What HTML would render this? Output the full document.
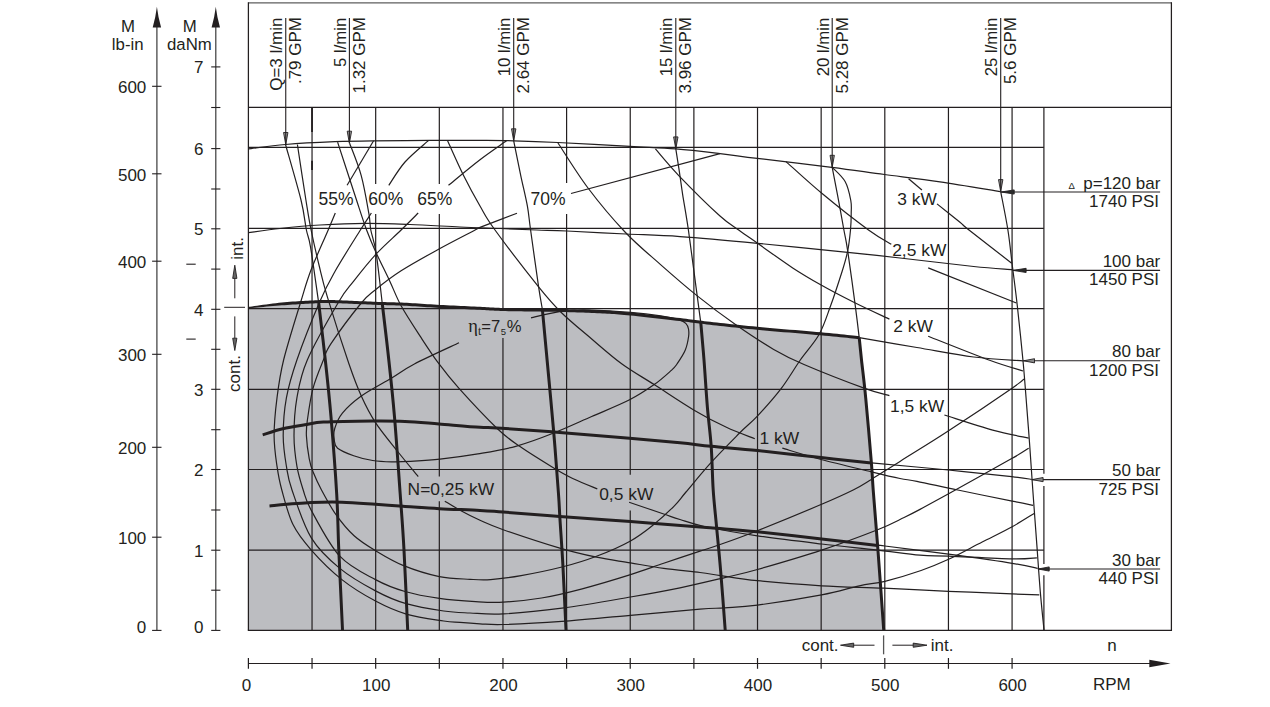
<!DOCTYPE html>
<html><head><meta charset="utf-8"><title>chart</title>
<style>
html,body{margin:0;padding:0;background:#fff;}
body{width:1270px;height:707px;overflow:hidden;}
svg{display:block;}
text{font-family:"Liberation Sans",sans-serif;fill:#231f20;}
</style></head><body>
<svg width="1270" height="707" viewBox="0 0 1270 707">
<rect x="0" y="0" width="1270" height="707" fill="#fff"/>
<path d="M248.4,630.3 L248.4,307.6 C254.0,307.0 271.2,304.8 281.8,303.9 C292.4,303.0 304.6,302.4 312.0,302.0 C319.4,301.6 320.4,301.4 325.9,301.4 C331.4,301.4 336.5,301.7 344.8,302.0 C353.1,302.3 365.7,302.9 375.6,303.3 C385.5,303.7 393.3,303.7 404.0,304.2 C414.7,304.7 427.3,305.7 440.0,306.4 C452.7,307.1 469.5,307.8 480.0,308.3 C490.5,308.8 493.0,309.2 503.0,309.5 C513.0,309.8 529.4,309.9 540.0,310.1 C550.6,310.3 556.6,310.3 566.6,310.6 C576.6,310.9 589.4,311.2 600.0,311.8 C610.6,312.4 617.2,312.7 630.5,314.0 C643.8,315.3 666.8,318.1 680.0,319.6 C693.2,321.2 697.1,321.9 710.0,323.3 C722.9,324.8 738.7,326.6 757.2,328.3 C775.7,330.1 803.8,332.2 820.8,333.8 C837.8,335.4 852.8,337.0 859.2,337.6 C859.6,341.3 860.4,349.9 861.5,360.0 C862.6,370.1 864.1,380.8 865.7,397.9 C867.4,415.0 870.1,447.5 871.4,462.9 C872.6,478.2 872.2,476.2 873.2,490.0 C874.2,503.8 875.9,522.1 877.6,545.4 C879.4,568.7 882.7,615.9 883.7,630.0 Z" fill="#bcbdc1" stroke="none"/>
<line x1="312.04" y1="107.40" x2="312.04" y2="630.30" stroke="#231f20" stroke-width="1.2" />
<line x1="375.68" y1="107.40" x2="375.68" y2="184.00" stroke="#231f20" stroke-width="1.2" />
<line x1="375.68" y1="214.00" x2="375.68" y2="630.30" stroke="#231f20" stroke-width="1.2" />
<line x1="439.32" y1="107.40" x2="439.32" y2="184.00" stroke="#231f20" stroke-width="1.2" />
<line x1="439.32" y1="214.00" x2="439.32" y2="476.60" stroke="#231f20" stroke-width="1.2" />
<line x1="439.32" y1="501.20" x2="439.32" y2="630.30" stroke="#231f20" stroke-width="1.2" />
<line x1="502.96" y1="107.40" x2="502.96" y2="310.60" stroke="#231f20" stroke-width="1.2" />
<line x1="502.96" y1="338.00" x2="502.96" y2="630.30" stroke="#231f20" stroke-width="1.2" />
<line x1="566.60" y1="107.40" x2="566.60" y2="183.00" stroke="#231f20" stroke-width="1.2" />
<line x1="566.60" y1="214.00" x2="566.60" y2="630.30" stroke="#231f20" stroke-width="1.2" />
<line x1="630.24" y1="107.40" x2="630.24" y2="474.70" stroke="#231f20" stroke-width="1.2" />
<line x1="630.24" y1="510.40" x2="630.24" y2="630.30" stroke="#231f20" stroke-width="1.2" />
<line x1="693.88" y1="107.40" x2="693.88" y2="630.30" stroke="#231f20" stroke-width="1.2" />
<line x1="757.52" y1="107.40" x2="757.52" y2="630.30" stroke="#231f20" stroke-width="1.2" />
<line x1="821.16" y1="107.40" x2="821.16" y2="630.30" stroke="#231f20" stroke-width="1.2" />
<line x1="884.80" y1="107.40" x2="884.80" y2="630.30" stroke="#231f20" stroke-width="1.2" />
<line x1="948.44" y1="107.40" x2="948.44" y2="630.30" stroke="#231f20" stroke-width="1.2" />
<line x1="1012.08" y1="107.40" x2="1012.08" y2="630.30" stroke="#231f20" stroke-width="1.2" />
<line x1="1043.90" y1="107.40" x2="1043.90" y2="473.80" stroke="#231f20" stroke-width="1.2" />
<line x1="1043.90" y1="486.00" x2="1043.90" y2="564.00" stroke="#231f20" stroke-width="1.2" />
<line x1="1043.90" y1="575.30" x2="1043.90" y2="630.30" stroke="#231f20" stroke-width="1.2" />
<line x1="248.40" y1="550.20" x2="1043.90" y2="550.20" stroke="#231f20" stroke-width="1.2" />
<line x1="248.40" y1="469.50" x2="1043.90" y2="469.50" stroke="#231f20" stroke-width="1.2" />
<line x1="248.40" y1="389.40" x2="1043.90" y2="389.40" stroke="#231f20" stroke-width="1.2" />
<line x1="248.40" y1="308.70" x2="1043.90" y2="308.70" stroke="#231f20" stroke-width="1.2" />
<line x1="248.40" y1="228.30" x2="1043.90" y2="228.30" stroke="#231f20" stroke-width="1.2" />
<line x1="248.40" y1="147.40" x2="1043.90" y2="147.40" stroke="#231f20" stroke-width="1.2" />
<line x1="312.04" y1="107.40" x2="312.04" y2="132.00" stroke="#231f20" stroke-width="1.8" />
<line x1="312.04" y1="160.70" x2="312.04" y2="170.00" stroke="#231f20" stroke-width="1.8" />
<line x1="248.40" y1="2.80" x2="1171.70" y2="2.80" stroke="#5e5e5e" stroke-width="1.3" />
<line x1="248.40" y1="2.30" x2="248.40" y2="630.30" stroke="#231f20" stroke-width="1.25" />
<line x1="1171.40" y1="2.30" x2="1171.40" y2="630.90" stroke="#231f20" stroke-width="1.25" />
<line x1="247.80" y1="630.30" x2="1172.00" y2="630.30" stroke="#231f20" stroke-width="1.3" />
<line x1="248.40" y1="107.40" x2="1171.70" y2="107.40" stroke="#231f20" stroke-width="1.2" />
<path d="M248.3,148.9 C254.5,148.2 271.1,145.7 285.5,144.5 C299.9,143.3 320.3,142.3 334.8,141.7 C349.3,141.1 356.9,141.0 372.7,140.8 C388.5,140.6 411.7,140.5 429.6,140.4 C447.5,140.3 466.0,140.3 480.0,140.4 C494.0,140.5 500.8,140.5 513.7,140.8 C526.7,141.2 538.3,141.6 557.7,142.5 C577.1,143.4 610.3,145.3 630.0,146.4 C649.7,147.5 660.8,147.7 675.8,148.9 C690.8,150.1 706.4,152.0 720.0,153.6 C733.6,155.2 738.7,156.1 757.3,158.4 C775.9,160.7 810.6,164.6 831.8,167.3 C853.0,170.0 866.5,172.1 884.5,174.5 C902.5,176.9 920.6,179.1 940.0,181.9 C959.4,184.8 990.6,190.0 1000.7,191.6" fill="none" stroke="#231f20" stroke-width="1.2" />
<path d="M248.3,232.7 C253.6,232.0 268.1,229.8 280.0,228.5 C291.9,227.2 305.8,225.8 320.0,225.0 C334.2,224.2 350.0,223.5 365.0,223.4 C380.0,223.3 394.2,223.9 410.0,224.5 C425.8,225.1 445.0,226.3 460.0,227.0 C475.0,227.7 487.2,228.0 500.0,228.5 C512.8,229.0 525.5,229.6 536.7,230.0 C547.9,230.4 552.1,230.3 567.0,231.0 C581.9,231.7 607.2,233.1 626.0,234.0 C644.8,234.9 658.1,235.0 680.0,236.6 C701.9,238.2 729.6,240.7 757.6,243.3 C785.6,245.9 824.0,250.0 847.7,252.4 C871.4,254.8 879.0,255.7 900.0,258.0 C921.0,260.4 954.9,264.5 973.7,266.5 C992.5,268.5 1006.1,269.2 1012.6,269.8" fill="none" stroke="#231f20" stroke-width="1.2" />
<path d="M859.2,337.6 C868.8,339.2 897.8,344.3 916.9,347.5 C936.0,350.7 956.0,354.8 973.7,357.0 C991.4,359.2 1014.8,360.2 1023.0,360.8" fill="none" stroke="#231f20" stroke-width="1.2" />
<path d="M871.4,462.9 C884.2,464.1 924.8,467.7 948.2,470.0 C971.6,472.3 997.8,475.0 1011.7,476.6 C1025.6,478.2 1028.3,478.9 1031.6,479.4" fill="none" stroke="#231f20" stroke-width="1.2" />
<path d="M877.6,545.4 C878.8,545.5 873.1,544.5 884.9,546.0 C896.7,547.5 927.4,551.3 948.6,554.2 C969.8,557.1 997.4,560.9 1012.2,563.3 C1027.0,565.7 1033.5,567.5 1037.7,568.4" fill="none" stroke="#231f20" stroke-width="1.2" />
<path d="M285.5,144.5 C288.1,153.8 297.5,185.8 301.0,200.0 C304.5,214.2 304.8,222.2 306.4,230.0 C308.0,237.8 308.4,234.6 310.5,246.8 C312.6,259.0 317.3,293.6 318.7,303.0" fill="none" stroke="#231f20" stroke-width="1.2" />
<path d="M349.6,143.2 C351.6,148.6 358.1,164.1 361.3,175.8 C364.5,187.6 367.3,204.7 368.9,213.7 C370.5,222.7 369.6,223.5 370.8,230.0 C372.0,236.5 374.2,240.5 376.1,252.7 C378.0,264.9 381.2,294.6 382.2,303.0" fill="none" stroke="#231f20" stroke-width="1.2" />
<path d="M513.7,140.8 C514.9,146.6 518.5,164.9 520.8,175.8 C523.1,186.7 525.8,197.2 527.4,206.2 C529.0,215.2 528.7,216.6 530.6,230.0 C532.5,243.4 536.6,273.6 538.6,286.9 C540.6,300.2 541.8,305.8 542.4,309.6" fill="none" stroke="#231f20" stroke-width="1.2" />
<path d="M675.8,148.9 C676.5,153.4 678.9,168.3 680.0,176.0 C681.1,183.7 681.3,185.8 682.7,194.8 C684.1,203.8 686.2,214.7 688.4,230.0 C690.6,245.3 693.9,271.4 696.0,286.9 C698.1,302.4 700.0,316.9 700.8,322.9" fill="none" stroke="#231f20" stroke-width="1.2" />
<path d="M832.2,167.3 C833.1,171.9 835.5,184.4 837.5,194.8 C839.5,205.2 842.2,220.7 843.9,230.0 C845.6,239.3 845.8,238.3 847.7,250.9 C849.6,263.5 853.4,291.4 855.3,305.8 C857.2,320.2 858.6,332.3 859.2,337.6" fill="none" stroke="#231f20" stroke-width="1.2" />
<path d="M1000.7,191.6 C1001.9,198.0 1005.9,217.3 1007.9,230.0 C1009.9,242.7 1011.0,255.3 1012.6,267.9 C1014.2,280.5 1015.6,290.3 1017.3,305.8 C1019.0,321.3 1021.4,343.9 1023.0,360.8 C1024.6,377.7 1025.7,393.3 1026.8,407.4 C1027.9,421.5 1028.7,431.5 1029.7,445.3 C1030.7,459.1 1031.5,472.4 1032.8,490.0 C1034.1,507.6 1036.0,534.1 1037.3,551.1 C1038.5,568.1 1039.2,578.8 1040.3,591.9 C1041.4,605.0 1043.4,623.6 1044.0,630.0" fill="none" stroke="#231f20" stroke-width="1.2" />
<path d="M297.4,144.5 C298.8,153.8 303.6,185.8 305.9,200.0 C308.2,214.2 308.9,219.2 311.1,230.0 C313.3,240.8 316.3,253.9 319.0,265.0 C321.7,276.1 322.2,279.9 327.2,296.4 C332.2,312.9 343.3,347.4 349.0,364.0 C354.7,380.6 356.9,386.2 361.3,396.0 C365.7,405.8 369.5,413.4 375.5,422.6 C381.5,431.8 390.2,442.0 397.3,451.0 C404.4,460.0 414.7,472.3 418.2,476.6" fill="none" stroke="#231f20" stroke-width="1.2" />
<path d="M444.8,501.2 C447.3,502.7 454.1,507.0 460.0,510.2 C465.9,513.4 472.8,517.0 480.0,520.3 C487.2,523.5 489.9,525.1 503.2,529.7 C516.5,534.3 544.2,543.5 559.8,548.1 C575.3,552.7 584.7,554.7 596.5,557.2 C608.3,559.7 619.3,561.0 630.5,562.9 C641.7,564.8 652.1,566.8 663.7,568.4 C675.3,570.0 690.5,571.3 700.0,572.5 C709.5,573.7 711.1,574.2 720.7,575.6 C730.3,577.0 740.6,579.0 757.4,580.7 C774.2,582.4 800.5,584.5 821.6,585.8 C842.7,587.0 862.5,587.3 883.7,588.2 C904.9,589.1 927.2,590.3 948.6,591.3 C970.0,592.2 997.1,593.3 1012.2,593.9 C1027.3,594.5 1034.8,594.7 1039.3,594.9" fill="none" stroke="#231f20" stroke-width="1.2" />
<path d="M337.6,142.1 C340.8,151.8 351.7,185.3 356.5,200.0 C361.3,214.7 363.3,221.2 366.6,230.0 C369.9,238.8 372.2,244.2 376.1,252.7 C380.0,261.2 385.6,272.3 389.8,281.2 C394.0,290.1 396.1,296.6 401.1,305.8 C406.2,315.0 413.9,326.7 420.1,336.2 C426.3,345.7 431.6,354.0 438.1,362.7 C444.6,371.4 449.2,377.5 459.0,388.4 C468.8,399.3 486.8,418.5 496.9,428.2 C507.0,437.9 510.1,439.7 519.6,446.3 C529.1,452.9 544.9,462.6 553.7,468.0 C562.6,473.4 565.4,475.0 572.7,478.5 C580.0,482.0 593.2,487.2 597.3,488.9" fill="none" stroke="#231f20" stroke-width="1.2" />
<path d="M629.1,502.2 C634.9,504.2 655.2,511.1 663.7,514.0 C672.2,516.9 673.2,517.4 680.0,519.5 C686.8,521.6 691.5,523.8 704.4,526.5 C717.3,529.2 737.9,532.9 757.4,535.8 C776.9,538.7 801.6,541.6 821.6,544.0 C841.6,546.4 861.2,548.2 877.6,550.1 C894.0,552.0 908.2,554.2 920.0,555.2 C931.8,556.2 933.2,555.6 948.6,556.2 C964.0,556.8 997.5,558.6 1012.2,558.9 C1026.9,559.2 1032.8,558.0 1036.9,557.8" fill="none" stroke="#231f20" stroke-width="1.2" />
<path d="M447.6,140.8 C450.3,146.6 458.3,164.9 463.7,175.8 C469.1,186.7 474.8,197.0 480.0,206.0 C485.2,215.0 485.2,216.5 495.0,230.0 C504.8,243.5 527.6,273.1 538.6,286.9 C549.6,300.6 552.4,303.8 561.3,312.5 C570.1,321.2 581.6,330.4 591.7,339.0 C601.8,347.6 611.6,356.4 622.0,364.0 C632.4,371.6 642.2,376.9 654.2,384.6 C666.2,392.3 682.1,403.1 694.1,410.2 C706.1,417.3 716.3,422.6 726.4,427.3 C736.5,432.1 750.1,436.8 754.8,438.7" fill="none" stroke="#231f20" stroke-width="1.2" />
<path d="M782.3,448.2 C788.8,450.1 806.2,455.6 821.1,459.5 C836.0,463.4 858.2,468.6 871.4,471.8 C884.5,475.0 892.4,476.9 900.0,478.5 C907.6,480.1 907.3,479.4 916.9,481.3 C926.5,483.2 941.9,486.7 957.8,490.0 C973.7,493.3 999.6,498.6 1012.2,501.2 C1024.8,503.8 1029.7,504.6 1033.2,505.3" fill="none" stroke="#231f20" stroke-width="1.2" />
<path d="M557.7,142.5 C562.8,150.1 576.8,173.1 588.0,188.0 C599.2,202.9 613.0,219.3 625.0,232.0 C637.0,244.7 647.9,253.4 660.0,264.1 C672.1,274.8 685.3,286.3 697.9,296.4 C710.5,306.5 723.2,316.0 735.8,324.8 C748.4,333.6 762.3,342.8 773.7,349.4 C785.1,356.0 788.8,358.0 804.0,364.5 C819.2,371.0 850.5,383.2 864.7,388.4 C878.9,393.6 885.3,394.4 889.4,395.6" fill="none" stroke="#231f20" stroke-width="1.2" />
<path d="M944.4,415.0 C952.5,417.5 978.7,426.2 992.7,430.1 C1006.8,434.0 1022.7,436.8 1028.7,438.1" fill="none" stroke="#231f20" stroke-width="1.2" />
<path d="M655.4,148.9 C659.3,153.4 668.2,164.6 679.0,175.8 C689.8,187.0 710.0,207.0 720.0,216.0 C730.0,225.0 732.4,225.4 738.7,230.0 C745.0,234.6 748.6,237.0 757.6,243.3 C766.6,249.6 782.1,260.9 792.7,267.9 C803.3,274.8 810.7,279.1 821.1,285.0 C831.5,290.9 843.9,297.3 855.3,303.0 C866.7,308.7 883.7,316.4 889.4,319.1" fill="none" stroke="#231f20" stroke-width="1.2" />
<path d="M928.2,336.2 C938.3,340.2 973.1,354.2 988.9,360.0 C1004.7,365.8 1017.3,369.2 1023.0,371.0" fill="none" stroke="#231f20" stroke-width="1.2" />
<path d="M786.0,161.6 C792.1,167.0 808.6,182.4 822.4,193.8 C836.1,205.2 857.0,221.6 868.5,230.0 C880.0,238.4 887.5,241.8 891.3,244.2" fill="none" stroke="#231f20" stroke-width="1.2" />
<path d="M928.2,267.9 L1016.4,303.0" fill="none" stroke="#231f20" stroke-width="1.2" />
<path d="M908.6,178.7 L921.9,190.0" fill="none" stroke="#231f20" stroke-width="1.2" />
<path d="M937.0,203.9 C940.8,207.0 954.7,218.0 960.0,222.3 C965.3,226.7 960.4,223.2 969.0,230.0 C977.6,236.8 1004.6,257.7 1011.7,263.2" fill="none" stroke="#231f20" stroke-width="1.2" />
<path d="M373.6,140.8 L347.1,185.3" fill="none" stroke="#231f20" stroke-width="1.2" />
<path d="M335.3,213.0 C334.1,215.8 332.2,220.5 328.2,230.0 C324.2,239.5 315.7,257.8 311.1,269.8 C306.5,281.8 305.3,287.0 300.7,302.0 C296.1,317.0 287.6,344.0 283.6,360.0 C279.7,376.0 278.6,385.3 277.0,397.9 C275.4,410.5 274.1,424.4 274.1,435.8 C274.1,447.2 275.7,457.2 277.0,466.2 C278.3,475.2 279.1,480.3 281.8,490.0 C284.5,499.7 288.1,514.6 293.0,524.6 C297.9,534.6 303.2,540.9 311.3,550.1 C319.4,559.3 331.2,571.1 341.9,579.6 C352.6,588.1 364.6,595.2 375.5,601.0 C386.4,606.8 395.7,611.0 407.1,614.3 C418.5,617.6 434.9,619.6 443.7,621.0 C452.5,622.4 453.9,621.9 460.0,622.4 C466.1,622.9 472.8,623.4 480.0,623.8 C487.2,624.1 489.6,624.9 503.2,624.5 C516.9,624.1 540.7,622.9 561.9,621.4 C583.1,619.9 607.5,617.3 630.5,615.3 C653.5,613.3 684.3,610.5 700.0,609.2 C715.7,608.0 715.2,608.5 724.8,607.8 C734.4,607.1 741.3,607.2 757.4,605.1 C773.5,603.0 804.6,598.1 821.6,594.9 C838.6,591.7 848.8,588.1 859.3,585.8 C869.8,583.5 874.6,583.8 884.9,581.3 C895.2,578.8 910.5,574.2 921.1,570.5 C931.7,566.8 938.4,564.0 948.6,559.3 C958.8,554.5 971.6,547.4 982.2,542.0 C992.8,536.6 1003.5,531.5 1012.2,526.7 C1020.9,521.9 1030.5,515.6 1034.2,513.4" fill="none" stroke="#231f20" stroke-width="1.2" />
<path d="M428.6,140.4 C424.7,144.0 411.6,154.5 405.0,162.0 C398.4,169.5 391.5,181.4 388.8,185.3" fill="none" stroke="#231f20" stroke-width="1.2" />
<path d="M371.4,213.0 C369.6,215.8 366.5,220.2 360.4,230.0 C354.3,239.8 341.6,259.7 334.8,271.7 C328.0,283.7 325.9,287.3 319.6,302.0 C313.3,316.7 302.4,344.0 296.9,360.0 C291.4,376.0 288.7,385.3 286.4,397.9 C284.1,410.5 283.2,424.4 283.2,435.8 C283.2,447.2 284.9,457.2 286.4,466.2 C287.9,475.2 287.9,478.1 292.0,490.0 C296.1,501.9 303.3,524.8 311.3,537.9 C319.3,551.0 329.1,559.6 339.8,568.4 C350.5,577.2 364.4,585.0 375.5,590.9 C386.6,596.8 394.7,600.4 406.1,603.7 C417.5,607.1 433.1,609.5 443.7,611.0 C454.3,612.5 460.1,612.5 470.0,613.0 C479.9,613.5 487.9,614.7 503.2,613.9 C518.5,613.1 540.7,611.0 561.9,608.2 C583.1,605.4 610.8,600.4 630.5,597.0 C650.2,593.6 664.3,591.0 680.0,587.8 C695.7,584.6 711.9,580.6 724.8,577.6 C737.7,574.6 741.3,574.1 757.4,569.5 C773.5,564.9 801.6,556.7 821.6,550.1 C841.6,543.5 863.9,535.1 877.6,529.7 C891.4,524.3 897.0,520.9 904.1,517.5 C911.2,514.1 912.6,513.4 920.0,509.4 C927.4,505.4 933.3,502.2 948.6,493.7 C963.9,485.2 998.4,466.2 1011.7,458.6 C1025.0,451.0 1025.9,449.9 1028.7,448.2" fill="none" stroke="#231f20" stroke-width="1.2" />
<path d="M506.5,140.8 C502.1,144.0 489.7,152.3 480.0,159.7 C470.3,167.1 453.8,181.0 448.5,185.3" fill="none" stroke="#231f20" stroke-width="1.2" />
<path d="M418.2,213.0 C415.4,215.8 408.1,223.2 401.1,230.0 C394.2,236.8 384.4,245.2 376.5,253.7 C368.6,262.2 360.0,273.1 353.7,281.2 C347.4,289.2 346.3,288.9 338.6,302.0 C330.9,315.1 314.2,344.0 307.3,360.0 C300.4,376.0 299.1,385.3 296.9,397.9 C294.7,410.5 294.0,424.4 294.0,435.8 C294.0,447.2 295.4,457.2 296.9,466.2 C298.4,475.2 300.8,482.6 303.2,490.0 C305.6,497.4 305.2,499.4 311.3,510.4 C317.4,521.4 329.1,544.7 339.8,556.2 C350.5,567.7 364.6,573.7 375.5,579.6 C386.4,585.5 394.4,588.4 405.0,591.5 C415.6,594.6 427.6,596.7 439.4,598.4 C451.2,600.1 465.0,601.0 475.6,601.6 C486.2,602.2 492.2,602.7 503.2,602.1 C514.2,601.5 528.3,600.2 541.5,598.0 C554.7,595.8 567.4,592.7 582.2,588.8 C597.0,584.9 616.9,578.9 630.5,574.6 C644.1,570.4 652.1,567.2 663.7,563.3 C675.3,559.4 690.8,554.1 700.0,551.1 C709.2,548.1 709.1,548.4 718.7,545.0 C728.3,541.6 740.2,537.5 757.4,530.7 C774.5,523.9 805.6,511.1 821.6,504.3 C837.6,497.5 844.9,494.1 853.2,490.0 C861.5,485.9 863.6,484.2 871.4,479.4 C879.2,474.6 887.2,469.4 900.0,461.4 C912.8,453.3 929.6,443.3 948.2,431.1 C966.8,418.9 999.1,397.1 1011.7,388.4 C1024.3,379.7 1022.0,380.6 1024.0,379.0" fill="none" stroke="#231f20" stroke-width="1.2" />
<path d="M720.0,153.6 L571.0,193.5" fill="none" stroke="#231f20" stroke-width="1.2" />
<path d="M517.0,213.2 C510.8,215.6 487.0,224.6 480.0,227.4 C473.0,230.2 481.9,226.4 475.1,230.0 C468.3,233.6 451.3,242.2 439.0,249.0 C426.7,255.8 411.7,264.0 401.1,270.8 C390.5,277.6 382.1,284.3 375.5,289.7 C368.9,295.1 368.7,294.0 361.3,303.0 C353.9,312.0 337.3,334.2 331.0,343.7 C324.7,353.2 326.4,352.6 323.4,360.0 C320.4,367.4 315.7,378.3 313.0,388.4 C310.3,398.5 308.4,412.8 307.3,420.7 C306.2,428.6 306.1,429.5 306.4,435.8 C306.7,442.1 308.1,452.6 309.2,458.6 C310.3,464.6 310.9,466.6 313.0,471.8 C315.1,477.0 317.7,482.9 321.5,490.0 C325.3,497.1 330.4,506.8 335.8,514.4 C341.2,522.0 347.5,529.8 354.1,535.8 C360.7,541.8 367.4,545.8 375.5,550.7 C383.6,555.6 392.4,561.1 403.0,565.4 C413.6,569.7 428.1,574.3 439.3,576.6 C450.5,578.9 461.4,578.8 470.0,579.3 C478.6,579.8 482.1,580.2 490.6,579.6 C499.1,579.0 509.2,577.7 521.1,575.6 C533.0,573.5 549.3,570.2 561.9,567.0 C574.5,563.8 585.1,560.6 596.5,556.2 C607.9,551.9 621.0,546.2 630.5,540.9 C640.0,535.6 646.4,530.4 653.6,524.6 C660.8,518.8 668.5,511.7 673.9,506.3 C679.3,500.9 679.8,499.3 686.0,492.0 C692.2,484.7 702.3,472.2 711.2,462.4 C720.1,452.6 731.9,440.8 739.6,433.0 C747.3,425.2 750.7,423.3 757.6,415.9 C764.5,408.5 774.2,397.7 781.3,388.4 C788.4,379.1 794.0,369.0 800.3,360.0 C806.6,351.0 814.2,343.3 819.2,334.3 C824.2,325.3 826.8,316.2 830.6,305.8 C834.4,295.4 839.1,280.8 842.0,271.7 C844.9,262.6 846.3,257.9 847.7,250.9 C849.1,244.0 849.9,236.2 850.5,230.0 C851.1,223.8 851.2,218.6 851.2,213.7 C851.2,208.8 851.8,205.9 850.8,200.5 C849.8,195.1 848.2,187.0 845.1,181.5 C842.0,176.0 834.4,169.7 832.2,167.3" fill="none" stroke="#231f20" stroke-width="1.2" />
<path d="M531.0,317.8 C535.7,316.8 550.4,312.9 559.4,311.6 C568.4,310.3 573.1,309.7 585.0,309.8 C596.9,309.9 617.9,311.4 630.5,312.4 C643.1,313.4 652.6,314.6 660.8,315.8 C669.0,317.1 675.4,318.6 679.6,319.9 C683.8,321.2 684.5,322.1 686.0,323.6 C687.5,325.1 688.1,326.9 688.5,329.0 C688.9,331.1 689.1,333.0 688.6,336.5 C688.1,340.0 687.2,345.4 685.3,350.0 C683.4,354.6 679.3,360.6 677.0,364.0 C674.7,367.4 675.1,367.0 671.3,370.4 C667.5,373.8 661.2,379.7 654.2,384.6 C647.2,389.5 640.0,394.5 629.6,399.8 C619.2,405.1 604.4,411.0 591.7,416.5 C579.1,422.0 566.4,428.0 553.7,433.0 C541.1,438.0 528.4,442.8 515.8,446.3 C503.2,449.8 490.5,451.7 477.9,453.8 C465.3,455.9 451.2,457.8 440.0,459.1 C428.8,460.4 418.7,460.9 410.6,461.4 C402.6,461.8 398.0,461.9 391.7,461.8 C385.4,461.7 379.0,461.5 372.7,460.5 C366.4,459.5 359.5,457.8 353.7,455.7 C347.9,453.6 340.9,450.9 337.6,448.2 C334.4,445.5 334.7,442.9 334.2,439.6 C333.7,436.3 333.4,432.6 334.8,428.2 C336.2,423.8 338.0,418.5 342.4,413.1 C346.8,407.7 353.1,401.9 361.3,396.0 C369.5,390.1 382.9,383.3 391.7,378.0 C400.5,372.7 403.2,369.9 414.4,364.0 C425.6,358.1 451.6,346.3 459.0,342.8" fill="none" stroke="#231f20" stroke-width="1.2" />
<path d="M262.7,434.9 C266.0,433.9 275.4,430.5 282.7,428.8 C290.0,427.1 299.9,425.7 306.7,424.6 C313.5,423.5 312.4,422.7 323.4,422.1 C334.4,421.5 359.1,421.1 372.7,421.0 C386.3,420.9 393.9,420.9 405.0,421.4 C416.1,421.9 426.5,423.0 439.0,424.0 C451.5,425.0 470.4,426.7 480.0,427.3 C489.6,427.9 484.6,427.1 496.9,427.9 C509.2,428.7 531.6,430.3 553.7,432.0 C575.8,433.7 608.6,436.5 629.6,438.3 C650.6,440.1 666.4,441.5 680.0,442.8 C693.6,444.1 698.3,445.0 711.2,446.3 C724.1,447.6 739.3,448.7 757.6,450.6 C775.9,452.5 802.1,455.6 821.1,457.6 C840.1,459.7 863.0,462.0 871.4,462.9" fill="none" stroke="#231f20" stroke-width="3.0" stroke-linecap="butt"/>
<path d="M269.5,505.9 C276.5,505.3 299.2,503.2 311.3,502.6 C323.4,502.0 331.2,501.9 341.9,502.2 C352.6,502.5 365.3,503.6 375.5,504.3 C385.7,505.0 392.4,505.6 403.0,506.3 C413.6,507.0 426.5,508.0 439.3,508.7 C452.1,509.4 469.4,509.8 480.0,510.4 C490.6,510.9 489.9,511.0 503.2,512.0 C516.5,513.0 538.6,514.9 559.8,516.5 C581.0,518.1 607.1,519.8 630.5,521.6 C653.9,523.4 685.6,526.0 700.0,527.1 C714.4,528.2 707.1,527.5 716.7,528.3 C726.3,529.1 739.9,530.0 757.4,531.8 C774.9,533.6 801.6,536.6 821.6,538.9 C841.6,541.2 868.3,544.3 877.6,545.4" fill="none" stroke="#231f20" stroke-width="3.0" stroke-linecap="butt"/>
<path d="M318.7,303.0 C319.8,312.5 323.2,341.0 325.3,360.0 C327.4,379.0 329.1,394.6 331.0,416.9 C332.9,439.2 335.4,471.8 336.7,494.0 C338.0,516.2 337.8,527.4 338.8,550.1 C339.8,572.8 341.9,616.7 342.5,630.0" fill="none" stroke="#231f20" stroke-width="3.0" stroke-linecap="butt"/>
<path d="M382.2,303.0 C383.3,312.5 386.8,341.0 388.8,360.0 C390.9,379.0 392.6,394.6 394.5,416.9 C396.4,439.2 398.6,471.8 400.2,494.0 C401.8,516.2 402.8,527.4 404.0,550.1 C405.2,572.8 407.1,616.7 407.7,630.0" fill="none" stroke="#231f20" stroke-width="3.0" stroke-linecap="butt"/>
<path d="M542.4,309.6 C543.2,318.0 545.2,339.6 547.1,360.0 C549.0,380.4 551.8,409.7 553.7,432.0 C555.6,454.3 557.5,479.9 558.5,494.0 C559.5,508.1 559.1,504.6 559.8,516.5 C560.5,528.4 561.9,546.5 562.9,565.4 C563.9,584.3 565.5,619.2 566.0,630.0" fill="none" stroke="#231f20" stroke-width="3.0" stroke-linecap="butt"/>
<path d="M700.8,322.9 C701.3,329.1 702.9,345.9 704.0,360.0 C705.1,374.1 706.2,393.0 707.4,407.4 C708.6,421.8 710.2,432.5 711.2,446.3 C712.2,460.1 712.3,476.3 713.2,490.0 C714.1,503.7 715.5,514.7 716.7,528.3 C718.0,541.9 719.3,554.5 720.7,571.5 C722.1,588.5 724.5,620.2 725.2,630.0" fill="none" stroke="#231f20" stroke-width="3.0" stroke-linecap="butt"/>
<path d="M859.2,337.6 C859.6,341.3 860.4,349.9 861.5,360.0 C862.6,370.1 864.1,380.8 865.7,397.9 C867.4,415.0 870.1,447.5 871.4,462.9 C872.6,478.2 872.2,476.2 873.2,490.0 C874.2,503.8 875.9,522.1 877.6,545.4 C879.4,568.7 882.7,615.9 883.7,630.0" fill="none" stroke="#231f20" stroke-width="3.0" stroke-linecap="butt"/>
<path d="M248.48,308.35 L250.11,308.16 L252.16,307.97 L254.58,307.74 L257.28,307.48 L260.22,307.20 L263.33,306.90 L266.54,306.61 L269.80,306.31 L273.03,306.03 L276.17,305.77 L279.16,305.54 L281.93,305.35 L284.60,305.17 L287.32,304.96 L290.06,304.76 L292.80,304.58 L295.53,304.41 L298.21,304.25 L300.82,304.11 L303.34,303.97 L305.75,303.84 L308.03,303.72 L310.15,303.60 L312.08,303.50 L313.80,303.40 L315.29,303.31 L316.60,303.23 L317.75,303.16 L318.78,303.09 L319.73,303.04 L320.64,303.00 L321.55,302.96 L322.49,302.93 L323.50,302.92 L324.63,302.90 L325.90,302.90 L327.25,302.91 L328.60,302.92 L329.96,302.95 L331.35,302.98 L332.77,303.03 L334.24,303.08 L335.77,303.14 L337.37,303.20 L339.06,303.27 L340.84,303.34 L342.73,303.42 L344.74,303.50 L346.90,303.58 L349.21,303.68 L351.65,303.78 L354.21,303.89 L356.85,304.01 L359.54,304.13 L362.27,304.25 L365.01,304.37 L367.73,304.49 L370.41,304.60 L373.02,304.70 L375.55,304.80 L377.98,304.88 L380.34,304.96 L382.65,305.02 L384.92,305.08 L387.18,305.14 L389.44,305.19 L391.71,305.25 L394.01,305.32 L396.37,305.39 L398.80,305.48 L401.31,305.58 L403.93,305.70 L406.64,305.84 L409.43,305.99 L412.28,306.16 L415.19,306.35 L418.16,306.54 L421.18,306.73 L424.23,306.94 L427.33,307.14 L430.45,307.34 L433.59,307.53 L436.75,307.72 L439.92,307.90 L443.17,308.07 L446.56,308.24 L450.04,308.41 L453.60,308.58 L457.17,308.75 L460.74,308.91 L464.27,309.07 L467.71,309.23 L471.03,309.38 L474.20,309.53 L477.18,309.67 L479.93,309.80 L482.39,309.92 L484.57,310.05 L486.53,310.16 L488.31,310.27 L489.99,310.38 L491.60,310.48 L493.20,310.58 L494.85,310.67 L496.59,310.76 L498.49,310.84 L500.59,310.92 L502.96,311.00 L505.59,311.07 L508.45,311.14 L511.48,311.19 L514.66,311.25 L517.93,311.30 L521.25,311.34 L524.59,311.39 L527.90,311.43 L531.13,311.47 L534.25,311.51 L537.21,311.56 L539.98,311.60 L542.53,311.64 L544.93,311.68 L547.20,311.72 L549.36,311.75 L551.45,311.78 L553.50,311.81 L555.53,311.85 L557.59,311.88 L559.68,311.93 L561.86,311.98 L564.14,312.03 L566.56,312.10 L569.11,312.17 L571.76,312.25 L574.50,312.33 L577.29,312.41 L580.13,312.50 L583.01,312.59 L585.89,312.69 L588.77,312.80 L591.63,312.91 L594.46,313.03 L597.22,313.16 L599.92,313.30 L602.50,313.44 L604.95,313.57 L607.30,313.70 L609.59,313.83 L611.86,313.97 L614.14,314.12 L616.48,314.29 L618.92,314.47 L621.48,314.68 L624.22,314.92 L627.16,315.19 L630.35,315.49 L633.87,315.85 L637.72,316.25 L641.83,316.70 L646.15,317.18 L650.60,317.68 L655.11,318.20 L659.62,318.72 L664.07,319.24 L668.38,319.74 L672.48,320.23 L676.32,320.68 L679.82,321.09 L682.95,321.46 L685.75,321.80 L688.28,322.12 L690.62,322.41 L692.82,322.70 L694.95,322.98 L697.08,323.25 L699.26,323.53 L701.56,323.82 L704.05,324.12 L706.79,324.44 L709.83,324.79 L713.11,325.16 L716.51,325.54 L720.04,325.94 L723.69,326.34 L727.45,326.76 L731.34,327.18 L735.34,327.61 L739.46,328.04 L743.69,328.48 L748.04,328.92 L752.49,329.35 L757.06,329.79 L761.87,330.24 L767.01,330.70 L772.41,331.17 L777.99,331.65 L783.69,332.14 L789.42,332.62 L795.13,333.10 L800.73,333.57 L806.16,334.03 L811.34,334.47 L816.20,334.89 L820.66,335.29 L824.86,335.68 L828.96,336.07 L832.93,336.45 L836.74,336.83 L840.38,337.19 L843.82,337.54 L847.05,337.86 L850.02,338.17 L852.74,338.45 L855.16,338.70 L857.27,338.91 L859.05,339.09 L859.35,336.11 L857.58,335.93 L855.47,335.71 L853.04,335.46 L850.33,335.19 L847.35,334.88 L844.13,334.55 L840.68,334.20 L837.04,333.84 L833.22,333.47 L829.25,333.08 L825.14,332.69 L820.94,332.31 L816.46,331.91 L811.60,331.48 L806.41,331.04 L800.99,330.58 L795.38,330.11 L789.68,329.63 L783.94,329.15 L778.25,328.66 L772.67,328.19 L767.28,327.71 L762.14,327.25 L757.34,326.81 L752.78,326.37 L748.33,325.93 L744.00,325.49 L739.77,325.06 L735.66,324.62 L731.66,324.20 L727.78,323.77 L724.02,323.36 L720.37,322.96 L716.85,322.56 L713.45,322.18 L710.17,321.81 L707.13,321.46 L704.41,321.14 L701.93,320.84 L699.64,320.55 L697.46,320.27 L695.34,320.00 L693.20,319.72 L691.00,319.44 L688.66,319.14 L686.11,318.82 L683.31,318.48 L680.18,318.11 L676.67,317.70 L672.83,317.25 L668.73,316.76 L664.42,316.26 L659.97,315.74 L655.45,315.22 L650.94,314.70 L646.48,314.19 L642.16,313.71 L638.04,313.27 L634.18,312.86 L630.65,312.51 L627.44,312.20 L624.48,311.93 L621.73,311.69 L619.15,311.48 L616.70,311.30 L614.35,311.13 L612.05,310.98 L609.77,310.84 L607.47,310.70 L605.11,310.57 L602.66,310.44 L600.08,310.30 L597.37,310.16 L594.59,310.04 L591.76,309.91 L588.89,309.80 L586.00,309.69 L583.11,309.59 L580.23,309.50 L577.38,309.41 L574.58,309.33 L571.85,309.25 L569.20,309.17 L566.64,309.10 L564.22,309.03 L561.93,308.98 L559.75,308.93 L557.64,308.89 L555.59,308.85 L553.55,308.81 L551.50,308.78 L549.41,308.75 L547.24,308.72 L544.98,308.68 L542.58,308.64 L540.02,308.60 L537.26,308.56 L534.29,308.51 L531.17,308.47 L527.94,308.43 L524.63,308.39 L521.30,308.34 L517.97,308.30 L514.71,308.25 L511.54,308.19 L508.51,308.14 L505.66,308.07 L503.04,308.00 L500.70,307.92 L498.62,307.84 L496.74,307.76 L495.01,307.67 L493.37,307.58 L491.78,307.48 L490.17,307.38 L488.50,307.28 L486.71,307.17 L484.74,307.05 L482.55,306.93 L480.07,306.80 L477.32,306.67 L474.34,306.53 L471.17,306.38 L467.85,306.23 L464.40,306.07 L460.88,305.91 L457.31,305.75 L453.74,305.58 L450.19,305.41 L446.71,305.24 L443.32,305.07 L440.08,304.90 L436.92,304.73 L433.77,304.54 L430.64,304.34 L427.52,304.14 L424.43,303.94 L421.37,303.74 L418.36,303.54 L415.38,303.35 L412.46,303.17 L409.60,303.00 L406.80,302.84 L404.07,302.70 L401.44,302.58 L398.91,302.48 L396.47,302.39 L394.10,302.32 L391.79,302.25 L389.51,302.19 L387.26,302.14 L385.00,302.08 L382.73,302.02 L380.43,301.96 L378.08,301.89 L375.65,301.80 L373.14,301.70 L370.53,301.60 L367.85,301.49 L365.14,301.37 L362.40,301.25 L359.67,301.13 L356.98,301.01 L354.34,300.90 L351.78,300.79 L349.34,300.68 L347.02,300.59 L344.86,300.50 L342.85,300.42 L340.96,300.35 L339.18,300.27 L337.49,300.20 L335.89,300.14 L334.35,300.08 L332.87,300.03 L331.43,299.99 L330.03,299.95 L328.65,299.92 L327.27,299.91 L325.90,299.90 L324.61,299.90 L323.46,299.92 L322.42,299.94 L321.45,299.96 L320.51,300.00 L319.58,300.05 L318.61,300.10 L317.56,300.16 L316.41,300.23 L315.11,300.31 L313.62,300.40 L311.92,300.50 L309.98,300.61 L307.87,300.72 L305.59,300.84 L303.18,300.97 L300.65,301.11 L298.03,301.26 L295.34,301.42 L292.61,301.59 L289.85,301.77 L287.10,301.97 L284.36,302.18 L281.67,302.45 L278.89,302.77 L275.90,303.14 L272.76,303.54 L269.54,303.96 L266.29,304.40 L263.09,304.83 L260.00,305.26 L257.07,305.67 L254.38,306.05 L251.98,306.39 L249.94,306.67 L248.32,306.85 Z" fill="#231f20" stroke="none"/>
<path d="M285.75,144.50 L283.55,132.50 L287.95,132.50 Z" fill="#9a9a9a" stroke="#231f20" stroke-width="0.9"/>
<line x1="285.75" y1="18.00" x2="285.75" y2="144.50" stroke="#231f20" stroke-width="1.1" />
<text transform="translate(281.55,17.60) rotate(-90)" text-anchor="end" font-size="17" >Q=3 l/min</text>
<text transform="translate(301.35,17.00) rotate(-90)" text-anchor="end" font-size="17" >.79 GPM</text>
<path d="M349.40,143.20 L347.20,131.20 L351.60,131.20 Z" fill="#9a9a9a" stroke="#231f20" stroke-width="0.9"/>
<line x1="349.40" y1="18.00" x2="349.40" y2="143.20" stroke="#231f20" stroke-width="1.1" />
<text transform="translate(346.00,17.60) rotate(-90)" text-anchor="end" font-size="16.8" >5 l/min</text>
<text transform="translate(365.00,17.00) rotate(-90)" text-anchor="end" font-size="17" >1.32 GPM</text>
<path d="M513.70,140.80 L511.50,128.80 L515.90,128.80 Z" fill="#9a9a9a" stroke="#231f20" stroke-width="0.9"/>
<line x1="513.70" y1="18.00" x2="513.70" y2="140.80" stroke="#231f20" stroke-width="1.1" />
<text transform="translate(509.50,17.60) rotate(-90)" text-anchor="end" font-size="16.8" >10 l/min</text>
<text transform="translate(529.30,17.00) rotate(-90)" text-anchor="end" font-size="17" >2.64 GPM</text>
<path d="M675.80,148.90 L673.60,136.90 L678.00,136.90 Z" fill="#9a9a9a" stroke="#231f20" stroke-width="0.9"/>
<line x1="675.80" y1="18.00" x2="675.80" y2="148.90" stroke="#231f20" stroke-width="1.1" />
<text transform="translate(671.60,17.60) rotate(-90)" text-anchor="end" font-size="16.8" >15 l/min</text>
<text transform="translate(691.40,17.00) rotate(-90)" text-anchor="end" font-size="17" >3.96 GPM</text>
<path d="M832.20,167.30 L830.00,155.30 L834.40,155.30 Z" fill="#9a9a9a" stroke="#231f20" stroke-width="0.9"/>
<line x1="832.20" y1="18.00" x2="832.20" y2="167.30" stroke="#231f20" stroke-width="1.1" />
<text transform="translate(828.80,17.60) rotate(-90)" text-anchor="end" font-size="16.8" >20 l/min</text>
<text transform="translate(847.80,17.00) rotate(-90)" text-anchor="end" font-size="17" >5.28 GPM</text>
<path d="M1000.70,191.60 L998.50,179.60 L1002.90,179.60 Z" fill="#9a9a9a" stroke="#231f20" stroke-width="0.9"/>
<line x1="1000.70" y1="18.00" x2="1000.70" y2="191.60" stroke="#231f20" stroke-width="1.1" />
<text transform="translate(996.50,17.60) rotate(-90)" text-anchor="end" font-size="16.8" >25 l/min</text>
<text transform="translate(1016.30,17.00) rotate(-90)" text-anchor="end" font-size="17" >5.6 GPM</text>
<line x1="1000.70" y1="192.00" x2="1160.10" y2="192.00" stroke="#231f20" stroke-width="1.1" />
<path d="M1001.20,192.00 L1014.20,189.90 L1014.20,194.10 Z" fill="#2a2a2a" stroke="#231f20" stroke-width="0.9"/>
<text x="1160.30" y="188.60" text-anchor="end" font-size="17" >p=120 bar</text>
<text x="1159.00" y="206.90" text-anchor="end" font-size="17" >1740 PSI</text>
<line x1="1012.60" y1="270.40" x2="1160.10" y2="270.40" stroke="#231f20" stroke-width="1.1" />
<path d="M1013.10,270.40 L1026.10,268.30 L1026.10,272.50 Z" fill="#2a2a2a" stroke="#231f20" stroke-width="0.9"/>
<text x="1160.30" y="267.00" text-anchor="end" font-size="17" >100 bar</text>
<text x="1159.00" y="285.30" text-anchor="end" font-size="17" >1450 PSI</text>
<line x1="1023.00" y1="360.80" x2="1160.10" y2="360.80" stroke="#231f20" stroke-width="1.1" />
<path d="M1023.50,360.80 L1034.50,358.70 L1034.50,362.90 Z" fill="#8a8a8a" stroke="#231f20" stroke-width="0.9"/>
<text x="1160.30" y="357.40" text-anchor="end" font-size="17" >80 bar</text>
<text x="1159.00" y="375.70" text-anchor="end" font-size="17" >1200 PSI</text>
<line x1="1031.60" y1="479.60" x2="1160.10" y2="479.60" stroke="#231f20" stroke-width="1.1" />
<path d="M1032.10,479.60 L1043.10,477.50 L1043.10,481.70 Z" fill="#8a8a8a" stroke="#231f20" stroke-width="0.9"/>
<text x="1160.30" y="476.20" text-anchor="end" font-size="17" >50 bar</text>
<text x="1159.00" y="494.50" text-anchor="end" font-size="17" >725 PSI</text>
<line x1="1037.70" y1="569.00" x2="1160.10" y2="569.00" stroke="#231f20" stroke-width="1.1" />
<path d="M1038.20,569.00 L1049.20,566.90 L1049.20,571.10 Z" fill="#2a2a2a" stroke="#231f20" stroke-width="0.9"/>
<text x="1160.30" y="565.60" text-anchor="end" font-size="17" >30 bar</text>
<text x="1159.00" y="583.90" text-anchor="end" font-size="17" >440 PSI</text>
<text x="1068.5" y="188.9" font-size="9.5" font-family="Liberation Serif, serif">&#916;</text>
<text x="318.50" y="205.20" text-anchor="start" font-size="17.5" >55%</text>
<text x="368.30" y="205.20" text-anchor="start" font-size="17.5" >60%</text>
<text x="417.30" y="205.20" text-anchor="start" font-size="17.5" >65%</text>
<text x="530.50" y="205.20" text-anchor="start" font-size="17.5" >70%</text>
<text x="407.60" y="495.30" text-anchor="start" font-size="17.4" >N=0,25 kW</text>
<text x="599.20" y="500.20" text-anchor="start" font-size="17.4" >0,5 kW</text>
<text x="759.50" y="444.40" text-anchor="start" font-size="17.4" >1 kW</text>
<text x="890.00" y="411.60" text-anchor="start" font-size="17.4" >1,5 kW</text>
<text x="893.20" y="331.80" text-anchor="start" font-size="17.4" >2 kW</text>
<text x="892.20" y="255.60" text-anchor="start" font-size="17.4" >2,5 kW</text>
<text x="897.30" y="205.20" text-anchor="start" font-size="17.4" >3 kW</text>
<text x="468.2" y="332.4" font-size="16.6"><tspan font-family="Liberation Serif, serif" font-size="18.5">&#951;</tspan><tspan font-family="Liberation Serif, serif" font-size="12" dy="2.6">t</tspan><tspan dy="-2.6">=7</tspan><tspan font-size="9.5" dy="3" dx="0.6">5</tspan><tspan dy="-3" dx="0.6">%</tspan></text>
<line x1="156.90" y1="27.00" x2="156.90" y2="630.30" stroke="#3a3a3a" stroke-width="1.2" />
<line x1="215.80" y1="27.00" x2="215.80" y2="630.30" stroke="#3a3a3a" stroke-width="1.2" />
<path d="M156.90,6.8 Q155.70,17 152.70,27.6 L161.10,27.6 Q158.10,17 156.90,6.8 Z" fill="#231f20"/>
<path d="M215.80,6.8 Q214.60,17 211.60,27.6 L220.00,27.6 Q217.00,17 215.80,6.8 Z" fill="#231f20"/>
<line x1="152.10" y1="630.40" x2="161.50" y2="630.40" stroke="#231f20" stroke-width="1.1" />
<text x="146.30" y="633.00" text-anchor="end" font-size="17" >0</text>
<line x1="152.10" y1="537.20" x2="161.50" y2="537.20" stroke="#231f20" stroke-width="1.1" />
<text x="146.30" y="544.10" text-anchor="end" font-size="17" >100</text>
<line x1="152.10" y1="447.30" x2="161.50" y2="447.30" stroke="#231f20" stroke-width="1.1" />
<text x="146.30" y="454.20" text-anchor="end" font-size="17" >200</text>
<line x1="152.10" y1="354.30" x2="161.50" y2="354.30" stroke="#231f20" stroke-width="1.1" />
<text x="146.30" y="361.20" text-anchor="end" font-size="17" >300</text>
<line x1="152.10" y1="261.20" x2="161.50" y2="261.20" stroke="#231f20" stroke-width="1.1" />
<text x="146.30" y="268.10" text-anchor="end" font-size="17" >400</text>
<line x1="152.10" y1="173.80" x2="161.50" y2="173.80" stroke="#231f20" stroke-width="1.1" />
<text x="146.30" y="180.70" text-anchor="end" font-size="17" >500</text>
<line x1="152.10" y1="86.30" x2="161.50" y2="86.30" stroke="#231f20" stroke-width="1.1" />
<text x="146.30" y="93.20" text-anchor="end" font-size="17" >600</text>
<line x1="211.20" y1="630.40" x2="220.40" y2="630.40" stroke="#231f20" stroke-width="1.1" />
<text x="203.50" y="633.00" text-anchor="end" font-size="17" >0</text>
<line x1="211.20" y1="590.20" x2="220.40" y2="590.20" stroke="#231f20" stroke-width="1.1" />
<line x1="211.20" y1="550.20" x2="220.40" y2="550.20" stroke="#231f20" stroke-width="1.1" />
<text x="203.50" y="556.70" text-anchor="end" font-size="17" >1</text>
<line x1="211.20" y1="510.00" x2="220.40" y2="510.00" stroke="#231f20" stroke-width="1.1" />
<line x1="211.20" y1="469.50" x2="220.40" y2="469.50" stroke="#231f20" stroke-width="1.1" />
<text x="203.50" y="476.00" text-anchor="end" font-size="17" >2</text>
<line x1="211.20" y1="429.70" x2="220.40" y2="429.70" stroke="#231f20" stroke-width="1.1" />
<line x1="211.20" y1="389.30" x2="220.40" y2="389.30" stroke="#231f20" stroke-width="1.1" />
<text x="203.50" y="395.80" text-anchor="end" font-size="17" >3</text>
<line x1="211.20" y1="349.30" x2="220.40" y2="349.30" stroke="#231f20" stroke-width="1.1" />
<line x1="211.20" y1="309.30" x2="220.40" y2="309.30" stroke="#231f20" stroke-width="1.1" />
<text x="203.50" y="315.80" text-anchor="end" font-size="17" >4</text>
<line x1="211.20" y1="269.10" x2="220.40" y2="269.10" stroke="#231f20" stroke-width="1.1" />
<line x1="211.20" y1="228.80" x2="220.40" y2="228.80" stroke="#231f20" stroke-width="1.1" />
<text x="203.50" y="235.30" text-anchor="end" font-size="17" >5</text>
<line x1="211.20" y1="189.00" x2="220.40" y2="189.00" stroke="#231f20" stroke-width="1.1" />
<line x1="211.20" y1="148.60" x2="220.40" y2="148.60" stroke="#231f20" stroke-width="1.1" />
<text x="203.50" y="155.10" text-anchor="end" font-size="17" >6</text>
<line x1="211.20" y1="107.50" x2="220.40" y2="107.50" stroke="#231f20" stroke-width="1.1" />
<line x1="211.20" y1="66.90" x2="220.40" y2="66.90" stroke="#231f20" stroke-width="1.1" />
<text x="203.50" y="73.40" text-anchor="end" font-size="17" >7</text>
<text x="127.90" y="32.20" text-anchor="middle" font-size="16.8" >M</text>
<text x="127.70" y="49.90" text-anchor="middle" font-size="16.8" >lb-in</text>
<text x="189.70" y="32.20" text-anchor="middle" font-size="16.8" >M</text>
<text x="189.40" y="49.90" text-anchor="middle" font-size="16.8" >daNm</text>
<line x1="186.30" y1="264.20" x2="195.70" y2="264.20" stroke="#231f20" stroke-width="1.1" />
<line x1="186.30" y1="339.10" x2="195.70" y2="339.10" stroke="#231f20" stroke-width="1.1" />
<line x1="224.20" y1="307.30" x2="245.00" y2="307.30" stroke="#231f20" stroke-width="1.0" />
<line x1="234.80" y1="298.30" x2="234.80" y2="278.00" stroke="#231f20" stroke-width="1.0" />
<path d="M234.8,265.2 L232.7,278.4 L236.9,278.4 Z" fill="#666" stroke="#231f20" stroke-width="0.9"/>
<line x1="234.80" y1="316.40" x2="234.80" y2="338.50" stroke="#231f20" stroke-width="1.0" />
<path d="M234.8,350.5 L232.7,338.2 L236.9,338.2 Z" fill="#666" stroke="#231f20" stroke-width="0.9"/>
<text transform="translate(242.50,259.80) rotate(-90)" text-anchor="start" font-size="17" >int.</text>
<text transform="translate(240.30,392.00) rotate(-90)" text-anchor="start" font-size="17" >cont.</text>
<line x1="248.40" y1="663.50" x2="1150.00" y2="663.50" stroke="#231f20" stroke-width="1.2" />
<path d="M1170.5,663.50 L1149.3,659.70 L1149.3,667.30 Z" fill="#231f20"/>
<line x1="248.40" y1="658.00" x2="248.40" y2="668.80" stroke="#231f20" stroke-width="1.2" />
<line x1="312.04" y1="658.00" x2="312.04" y2="668.80" stroke="#231f20" stroke-width="1.2" />
<line x1="375.68" y1="658.00" x2="375.68" y2="668.80" stroke="#231f20" stroke-width="1.2" />
<line x1="439.32" y1="658.00" x2="439.32" y2="668.80" stroke="#231f20" stroke-width="1.2" />
<line x1="502.96" y1="658.00" x2="502.96" y2="668.80" stroke="#231f20" stroke-width="1.2" />
<line x1="566.60" y1="658.00" x2="566.60" y2="668.80" stroke="#231f20" stroke-width="1.2" />
<line x1="630.24" y1="658.00" x2="630.24" y2="668.80" stroke="#231f20" stroke-width="1.2" />
<line x1="693.88" y1="658.00" x2="693.88" y2="668.80" stroke="#231f20" stroke-width="1.2" />
<line x1="757.52" y1="658.00" x2="757.52" y2="668.80" stroke="#231f20" stroke-width="1.2" />
<line x1="821.16" y1="658.00" x2="821.16" y2="668.80" stroke="#231f20" stroke-width="1.2" />
<line x1="884.80" y1="658.00" x2="884.80" y2="668.80" stroke="#231f20" stroke-width="1.2" />
<line x1="948.44" y1="658.00" x2="948.44" y2="668.80" stroke="#231f20" stroke-width="1.2" />
<line x1="1012.08" y1="658.00" x2="1012.08" y2="668.80" stroke="#231f20" stroke-width="1.2" />
<text x="246.60" y="690.60" text-anchor="middle" font-size="17" >0</text>
<text x="376.18" y="690.60" text-anchor="middle" font-size="17" >100</text>
<text x="503.46" y="690.60" text-anchor="middle" font-size="17" >200</text>
<text x="630.74" y="690.60" text-anchor="middle" font-size="17" >300</text>
<text x="758.02" y="690.60" text-anchor="middle" font-size="17" >400</text>
<text x="885.30" y="690.60" text-anchor="middle" font-size="17" >500</text>
<text x="1012.58" y="690.60" text-anchor="middle" font-size="17" >600</text>
<text x="1112.00" y="650.70" text-anchor="middle" font-size="17" >n</text>
<text x="1111.80" y="690.10" text-anchor="middle" font-size="17" >RPM</text>
<text x="801.70" y="650.50" text-anchor="start" font-size="17" >cont.</text>
<line x1="853.00" y1="645.20" x2="874.50" y2="645.20" stroke="#231f20" stroke-width="1.0" />
<path d="M840.5,645.2 L853.7,643.1 L853.7,647.3 Z" fill="#666" stroke="#231f20" stroke-width="0.9"/>
<line x1="883.60" y1="635.40" x2="883.60" y2="654.30" stroke="#555" stroke-width="1.3" />
<line x1="892.40" y1="645.20" x2="914.00" y2="645.20" stroke="#231f20" stroke-width="1.0" />
<path d="M927,645.2 L913.2,643.1 L913.2,647.3 Z" fill="#666" stroke="#231f20" stroke-width="0.9"/>
<text x="930.80" y="650.50" text-anchor="start" font-size="17" >int.</text>
</svg>
</body></html>
